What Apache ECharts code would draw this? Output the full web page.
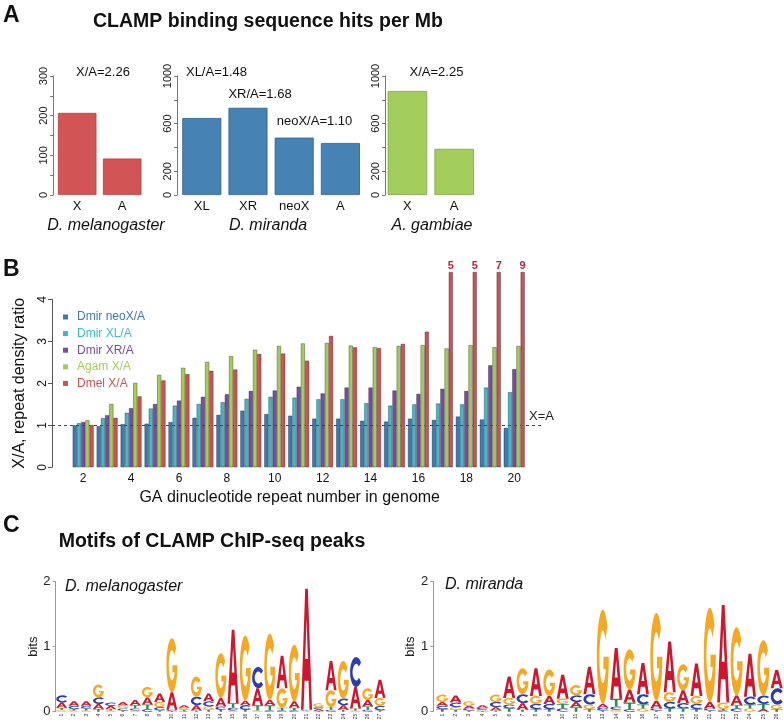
<!DOCTYPE html>
<html><head><meta charset="utf-8">
<script src="https://cdn.jsdelivr.net/npm/echarts@6/dist/echarts.min.js"></script>
<style>html,body{margin:0;padding:0;background:#fff}#c{width:784px;height:728px}</style>
</head><body><div id="c"></div>
<script>
// ---------- Panel A data ----------
const dmelCats = ['X', 'A'];
const dmelHits = [207, 92];
const dmelTickLabels = [0, 100, 200, 300];
const dmirCats = ['XL', 'XR', 'neoX', 'A'];
const dmirHits = [647, 733, 482, 437];
const dmirTickLabels = [0, 200, 600, 1000];
const agamCats = ['X', 'A'];
const agamHits = [874, 388];
const agamTickLabels = [0, 200, 600, 1000];

// ---------- Panel B data ----------
const repeatNumbers = ['2','3','4','5','6','7','8','9','10','11','12','13','14','15','16','17','18','19','20'];
const dmirNeoXA = [1.00,0.98,1.03,1.04,1.08,1.18,1.25,1.35,1.27,1.23,1.16,1.16,1.11,1.09,1.16,1.13,1.21,1.14,0.94];
const dmirXLA   = [1.05,1.17,1.30,1.40,1.47,1.51,1.55,1.63,1.68,1.66,1.62,1.62,1.53,1.47,1.50,1.52,1.50,1.90,1.79];
const dmirXRA   = [1.08,1.24,1.41,1.51,1.59,1.68,1.74,1.82,1.83,1.92,1.76,1.90,1.90,1.83,1.75,1.87,1.82,2.43,2.34];
const agamXA    = [1.12,1.51,2.01,2.20,2.37,2.51,2.65,2.80,2.89,2.95,2.96,2.90,2.86,2.89,2.91,2.83,2.91,2.86,2.89];
const dmelXA    = [1.01,1.18,1.69,2.07,2.22,2.30,2.33,2.70,2.71,2.54,3.13,2.86,2.84,2.94,3.23,5,5,7,9];
const ratioAxisMax = 4;
const offScaleCap = 4.65;   // off-scale bars are drawn truncated at this height

// ---------- Panel C data (letter, bits) ----------
const dmelPositions = Array.from({length: 27}, (_, i) => String(i + 1));
const dmelMotif = [
  [['C',.11],['A',.08],['G',.03],['T',.03]],
  [['A',.07],['C',.05],['G',.02],['T',.02]],
  [['A',.07],['C',.04],['T',.03],['G',.02]],
  [['G',.20],['C',.10],['A',.08],['T',.04]],
  [['A',.05],['C',.05],['G',.02],['T',.02]],
  [['G',.05],['A',.05],['C',.03],['T',.02]],
  [['A',.08],['T',.05],['C',.03],['G',.02]],
  [['G',.16],['A',.11],['T',.07],['C',.04]],
  [['A',.13],['G',.08],['C',.05],['T',.02]],
  [['G',.83],['A',.27],['C',.02],['T',.01]],
  [['A',.04],['G',.03],['T',.02],['C',.01]],
  [['G',.31],['C',.13],['A',.08],['T',.02]],
  [['A',.12],['C',.08],['G',.05],['T',.03]],
  [['G',.69],['A',.13],['C',.05],['T',.03]],
  [['A',1.13],['T',.07],['C',.04],['G',.02]],
  [['G',1.0],['C',.07],['A',.07],['T',.03]],
  [['C',.33],['A',.26],['T',.08],['G',.02]],
  [['G',1.02],['T',.08],['A',.08],['C',.02]],
  [['A',.50],['G',.30],['T',.04],['C',.02]],
  [['G',.87],['A',.10],['T',.04],['C',.02]],
  [['A',1.86],['G',.01],['C',.01],['T',.01]],
  [['G',.06],['A',.03],['C',.03],['T',.01]],
  [['A',.45],['G',.26],['T',.04],['C',.03]],
  [['G',.58],['C',.10],['A',.07],['T',.03]],
  [['C',.46],['A',.33],['T',.03],['G',.02]],
  [['G',.18],['A',.10],['T',.05],['C',.03]],
  [['A',.28],['G',.12],['C',.07],['T',.02]]
];
const dmirPositions = Array.from({length: 26}, (_, i) => String(i + 1));
const dmirMotif = [
  [['G',.11],['A',.06],['C',.05],['T',.04]],
  [['A',.11],['C',.07],['G',.04],['T',.03]],
  [['G',.07],['A',.04],['C',.03],['T',.02]],
  [['A',.04],['C',.03],['G',.02],['T',.01]],
  [['G',.11],['C',.08],['A',.05],['T',.02]],
  [['A',.33],['G',.10],['C',.06],['T',.05]],
  [['G',.40],['C',.14],['A',.10],['T',.03]],
  [['A',.43],['G',.12],['C',.08],['T',.04]],
  [['G',.41],['A',.12],['C',.08],['T',.04]],
  [['A',.37],['G',.08],['T',.07],['C',.05]],
  [['G',.16],['C',.10],['A',.08],['T',.07]],
  [['A',.42],['C',.16],['G',.07],['T',.04]],
  [['G',1.45],['A',.06],['C',.04],['T',.02]],
  [['A',.78],['T',.12],['C',.05],['G',.03]],
  [['G',.62],['A',.20],['T',.10],['C',.04]],
  [['A',.48],['C',.16],['T',.06],['G',.05]],
  [['G',1.35],['A',.12],['C',.03],['T',.02]],
  [['A',.78],['G',.15],['C',.10],['T',.05]],
  [['G',.40],['A',.20],['C',.08],['T',.05]],
  [['A',.50],['G',.12],['C',.08],['T',.04]],
  [['G',1.45],['A',.10],['C',.03],['T',.02]],
  [['A',1.50],['G',.10],['C',.02],['T',.02]],
  [['G',1.05],['A',.15],['C',.05],['T',.05]],
  [['A',.66],['C',.12],['T',.06],['G',.05]],
  [['G',.85],['C',.13],['T',.08],['A',.04]],
  [['A',.28],['C',.25],['G',.07],['T',.04]]
];

// ---------- styling ----------
const FONT = '"Liberation Sans", Arial, Helvetica, sans-serif';
const letterOrder = ['A', 'C', 'G', 'T'];
const letterColors = {A: '#D0152D', C: '#2B3DB5', G: '#F7A823', T: '#23904A'};
const glyphPaths = {
  A: 'M0,100 L38,0 L62,0 L100,100 L77,100 L68,76 L32,76 L23,100 Z M38,58 L62,58 L50,24 Z',
  C: 'M88.3,17.9 A50,50 0 1 0 88.3,82.1 L71.4,68 A28,28 0 1 1 71.4,32 Z',
  G: 'M88.3,17.9 A50,50 0 1 0 100,50 L55,50 L55,63 L74.8,63 A28,28 0 1 1 71.4,32 Z',
  T: 'M0,0 L100,0 L100,18 L61,18 L61,100 L39,100 L39,18 L0,18 Z'
};
const bColors = {neoX: '#3B7BB5', XL: '#3DBCC7', XR: '#7A4DA2', agam: '#A3CD5B', dmel: '#CF5252'};

function logoData(motif) {
  const out = [];
  motif.forEach((col, i) => {
    const sorted = col.slice().sort((a, b) => a[1] - b[1]);
    let y = 0;
    sorted.forEach(([L, h]) => { out.push([i, y, y + h, letterOrder.indexOf(L)]); y += h; });
  });
  return out;
}
function renderLetter(params, api) {
  const i = api.value(0), y0 = api.value(1), y1 = api.value(2);
  const L = letterOrder[api.value(3)];
  const pb = api.coord([i, y0]), pt = api.coord([i, y1]);
  const w = api.size([1, 0])[0] * 0.9;
  const h = pb[1] - pt[1];
  if (h < 0.25) return null;
  return {
    type: 'path',
    shape: {pathData: glyphPaths[L], x: pb[0] - w / 2, y: pt[1], width: w, height: h, layout: 'cover'},
    style: {fill: letterColors[L]}
  };
}

const chart = echarts.init(document.getElementById('c'), null, {renderer: 'canvas'});

function aYAxis(grid, max, interval, labels, offset) {
  return {
    gridIndex: grid, type: 'value', min: 0, max: max, interval: interval, offset: offset,
    axisLine: {show: true, lineStyle: {color: '#777', width: 1}},
    axisTick: {show: true, length: 3, lineStyle: {color: '#777'}},
    axisLabel: {rotate: 90, fontSize: 11, margin: 4, color: '#222', fontFamily: FONT,
      formatter: v => labels.includes(v) ? String(v) : ''},
    splitLine: {show: false}
  };
}
function aXAxis(grid, cats) {
  return {gridIndex: grid, type: 'category', data: cats,
    axisLine: {show: false}, axisTick: {show: false},
    axisLabel: {fontSize: 13, margin: 5, color: '#111', fontFamily: FONT}};
}
function bBar(name, data, color, idx) {
  return {
    name: name, type: 'bar', xAxisIndex: 3, yAxisIndex: 3, data: data,
    barGap: '0%', barCategoryGap: '12%', clip: false,
    itemStyle: {color: color, borderColor: 'rgba(30,30,40,0.6)', borderWidth: 0.6},
    z: 2 + idx
  };
}
function txt(x, y, s, opt) {
  return {type: 'text', x: x, y: y, silent: true,
    style: Object.assign({text: s, fill: '#111', font: '13px ' + FONT, textAlign: 'center', textVerticalAlign: 'middle'}, opt || {})};
}

const option = {
  animation: false,
  backgroundColor: '#fff',
  textStyle: {fontFamily: FONT},
  grid: [
    {left: 54.7, top: 76, width: 90, height: 119},
    {left: 178.7, top: 76, width: 184.8, height: 119},
    {left: 384, top: 76, width: 93.6, height: 119},
    {left: 71.2, top: 299.3, width: 455, height: 168},
    {left: 52, top: 299.3, width: 490, height: 168},
    {left: 55.6, top: 581.7, width: 330.5, height: 130},
    {left: 435.6, top: 581.7, width: 347.8, height: 130}
  ],
  xAxis: [
    aXAxis(0, dmelCats), aXAxis(1, dmirCats), aXAxis(2, agamCats),
    {gridIndex: 3, type: 'category', data: repeatNumbers,
      axisLine: {show: false}, axisTick: {show: false},
      axisLabel: {interval: 1, fontSize: 12, margin: 5, color: '#111'},
      name: 'GA dinucleotide repeat number in genome', nameLocation: 'middle', nameGap: 22,
      nameTextStyle: {fontSize: 16, color: '#111', padding: [0, 18, 0, 0]}},
    {gridIndex: 4, type: 'value', min: 0, max: 1, show: false},
    {gridIndex: 5, type: 'category', data: dmelPositions,
      axisLine: {show: false}, axisTick: {show: false},
      axisLabel: {interval: 0, rotate: 90, fontSize: 5, margin: 2, color: '#333'}},
    {gridIndex: 6, type: 'category', data: dmirPositions,
      axisLine: {show: false}, axisTick: {show: false},
      axisLabel: {interval: 0, rotate: 90, fontSize: 5, margin: 2, color: '#333'}}
  ],
  yAxis: [
    aYAxis(0, 300, 50, dmelTickLabels, 1.7),
    aYAxis(1, 1000, 200, dmirTickLabels, 1.7),
    aYAxis(2, 1000, 200, agamTickLabels, -1),
    {gridIndex: 3, type: 'value', min: 0, max: ratioAxisMax, interval: 1, show: false},
    {gridIndex: 4, type: 'value', min: 0, max: ratioAxisMax, interval: 1,
      axisLine: {show: true, lineStyle: {color: '#555'}},
      axisTick: {show: true, length: 4, lineStyle: {color: '#555'}},
      axisLabel: {rotate: 90, fontSize: 12, margin: 3, color: '#111'},
      splitLine: {show: false},
      name: 'X/A, repeat density ratio', nameLocation: 'middle', nameRotate: 90, nameGap: 24,
      nameTextStyle: {fontSize: 16, color: '#111'}},
    {gridIndex: 5, type: 'value', min: 0, max: 2, interval: 1,
      axisLine: {show: true, lineStyle: {color: '#999'}},
      axisTick: {show: true, length: 3, lineStyle: {color: '#999'}},
      axisLabel: {fontSize: 13, margin: 5, color: '#222'},
      splitLine: {show: false},
      name: 'bits', nameLocation: 'middle', nameRotate: 90, nameGap: 16,
      nameTextStyle: {fontSize: 13, color: '#222'}},
    {gridIndex: 6, type: 'value', min: 0, max: 2, interval: 1, offset: 2.3,
      axisLine: {show: true, lineStyle: {color: '#999'}},
      axisTick: {show: true, length: 3, lineStyle: {color: '#999'}},
      axisLabel: {fontSize: 13, margin: 5, color: '#222'},
      splitLine: {show: false},
      name: 'bits', nameLocation: 'middle', nameRotate: 90, nameGap: 16,
      nameTextStyle: {fontSize: 13, color: '#222'}}
  ],
  legend: {
    left: 63, top: 311, padding: 0, orient: 'vertical', icon: 'rect', itemWidth: 5, itemHeight: 5, itemGap: 4.6,
    selectedMode: false,
    itemStyle: {borderWidth: 0},
    textStyle: {fontSize: 12, padding: [0, 0, 0, 4]},
    data: [
      {name: 'Dmir neoX/A', textStyle: {color: bColors.neoX}},
      {name: 'Dmir XL/A', textStyle: {color: bColors.XL}},
      {name: 'Dmir XR/A', textStyle: {color: bColors.XR}},
      {name: 'Agam X/A', textStyle: {color: bColors.agam}},
      {name: 'Dmel X/A', textStyle: {color: bColors.dmel}}
    ]
  },
  series: [
    {name: 'D. melanogaster', type: 'bar', xAxisIndex: 0, yAxisIndex: 0, data: dmelHits, barWidth: 38.5,
      itemStyle: {color: '#D25454', borderColor: '#A94242', borderWidth: 0.8}},
    {name: 'D. miranda', type: 'bar', xAxisIndex: 1, yAxisIndex: 1, data: dmirHits, barWidth: 39,
      itemStyle: {color: '#4682B4', borderColor: '#2F5E89', borderWidth: 0.8}},
    {name: 'A. gambiae', type: 'bar', xAxisIndex: 2, yAxisIndex: 2, data: agamHits, barWidth: 39.5,
      itemStyle: {color: '#A3CE5B', borderColor: '#7FA544', borderWidth: 0.8}},
    bBar('Dmir neoX/A', dmirNeoXA, bColors.neoX, 0),
    bBar('Dmir XL/A', dmirXLA, bColors.XL, 1),
    bBar('Dmir XR/A', dmirXRA, bColors.XR, 2),
    bBar('Agam X/A', agamXA, bColors.agam, 3),
    bBar('Dmel X/A', dmelXA.map(v => v > ratioAxisMax ? {
      value: offScaleCap,
      label: {show: true, position: 'top', distance: 1, formatter: String(v),
        color: '#C0213A', fontWeight: 'bold', fontSize: 11}
    } : v), bColors.dmel, 4),
    {type: 'line', xAxisIndex: 4, yAxisIndex: 4, data: [], silent: true,
      markLine: {silent: true, symbol: 'none',
        lineStyle: {type: [3, 3], color: '#444', width: 1.2},
        label: {show: true, position: 'insideEndTop', formatter: 'X=A', color: '#222', fontSize: 13, distance: [-12, 2]},
        data: [{yAxis: 1}]}},
    {type: 'custom', xAxisIndex: 5, yAxisIndex: 5, renderItem: renderLetter,
      encode: {x: 0, y: [1, 2]}, data: logoData(dmelMotif), silent: true},
    {type: 'custom', xAxisIndex: 6, yAxisIndex: 6, renderItem: renderLetter,
      encode: {x: 0, y: [1, 2]}, data: logoData(dmirMotif), silent: true}
  ],
  graphic: [
    txt(3, 16, 'A', {font: 'bold 23px ' + FONT, textAlign: 'left'}),
    txt(268, 22, 'CLAMP binding sequence hits per Mb', {font: 'bold 19.5px ' + FONT}),
    txt(103, 72, 'X/A=2.26'),
    txt(216.5, 72, 'XL/A=1.48'),
    txt(260, 94, 'XR/A=1.68'),
    txt(314.5, 121, 'neoX/A=1.10'),
    txt(436.5, 72, 'X/A=2.25'),
    txt(106, 226, 'D. melanogaster', {font: 'italic 16px ' + FONT}),
    txt(268, 226, 'D. miranda', {font: 'italic 16px ' + FONT}),
    txt(432, 226, 'A. gambiae', {font: 'italic 16px ' + FONT}),
    txt(3, 270, 'B', {font: 'bold 23px ' + FONT, textAlign: 'left'}),
    txt(3, 526, 'C', {font: 'bold 23px ' + FONT, textAlign: 'left'}),
    txt(212, 542, 'Motifs of CLAMP ChIP-seq peaks', {font: 'bold 19.5px ' + FONT}),
    txt(65, 587, 'D. melanogaster', {font: 'italic 16px ' + FONT, textAlign: 'left'}),
    txt(445, 585, 'D. miranda', {font: 'italic 16px ' + FONT, textAlign: 'left'})
  ]
};
chart.setOption(option);
</script>
</body></html>
